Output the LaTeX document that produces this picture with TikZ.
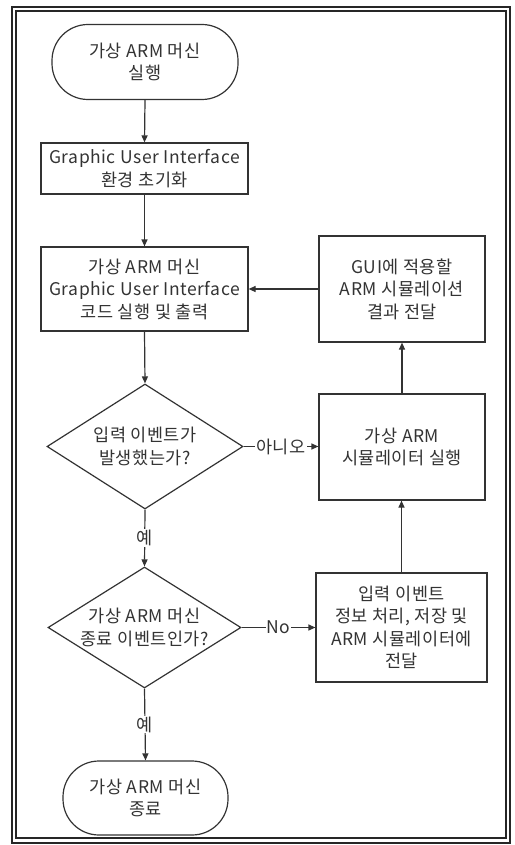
\documentclass[tikz,border=0pt]{standalone}
\usepackage{fontspec}
\setmainfont[LetterSpace=3]{Noto Sans CJK KR}
\usetikzlibrary{shapes.geometric,arrows.meta}
\begin{document}
\begin{tikzpicture}[x=1pt,y=-1pt,
  font=\fontsize{17.5}{22.5}\selectfont,
  every node/.style={text=black!80},
  line/.style={line width=1.2pt, draw=black!80},
  arr/.style={line, -{Triangle[length=7pt,width=6pt]}},
  boxnode/.style={draw=black!80, line width=1.2pt, rectangle, align=center, inner sep=0pt},
  term/.style={boxnode, rounded corners=36pt},
  dia/.style={draw=black!80, line width=1.2pt, diamond, inner sep=0pt},
  lbl/.style={fill=white, inner sep=1pt}]
\useasboundingbox (0,0) rectangle (514,845);
\draw[line width=1.4pt, draw=black!85] (12,7) rectangle (510,843);
\draw[line width=1.4pt, draw=black!85] (16,11) rectangle (506,838);

\node[term, minimum width=186pt, minimum height=75pt] (start) at (145,62) {가상 ARM 머신\\실행};
\node[boxnode, minimum width=207pt, minimum height=51pt] (init) at (144.5,168.5) {Graphic User Interface\\환경 초기화};
\node[boxnode, minimum width=207pt, minimum height=84pt] (exec) at (144.5,289) {가상 ARM 머신\\Graphic User Interface\\코드 실행 및 출력};
\node[boxnode, minimum width=166pt, minimum height=106pt] (gui) at (402,289) {GUI에 적용할\\ARM 시뮬레이션\\결과 전달};
\node[boxnode, minimum width=166pt, minimum height=106pt] (sim) at (402,447) {가상 ARM\\시뮬레이터 실행};
\node[dia, minimum width=196pt, minimum height=125pt] (d1) at (145,446.5) {};
\node[align=center] (d1t) at (d1.center) {입력 이벤트가\\발생했는가?};
\node[dia, minimum width=193pt, minimum height=121pt] (d2) at (144.5,627.5) {};
\node[align=center] (d2t) at (d2.center) {가상 ARM 머신\\종료 이벤트인가?};
\node[boxnode, minimum width=171pt, minimum height=109pt] (inp) at (401.5,627.5) {입력 이벤트\\정보 처리, 저장 및\\ARM 시뮬레이터에\\전달};
\node[term, minimum width=165pt, minimum height=74pt] (end) at (145.5,798) {가상 ARM 머신\\종료};

\draw[arr] (start.south) -- (init.north);
\draw[arr] (init.south) -- (exec.north);
\draw[arr] (exec.south) -- (d1.north);
\draw[arr] (d1.east) -- node[lbl] {아니오} (d1.east -| sim.west);
\draw[arr] (d1.south) -- node[lbl] {예} (d2.north);
\draw[arr] (d2.east) -- node[lbl] {No} (d2.east -| inp.west);
\draw[arr] (d2.south) -- node[lbl] {예} (end.north);
\draw[arr] (inp.north) -- (inp.north |- sim.south);
\draw[arr] (sim.north) -- (gui.south);
\draw[arr] (gui.west) -- (gui.west -| exec.east);
\end{tikzpicture}
\end{document}
